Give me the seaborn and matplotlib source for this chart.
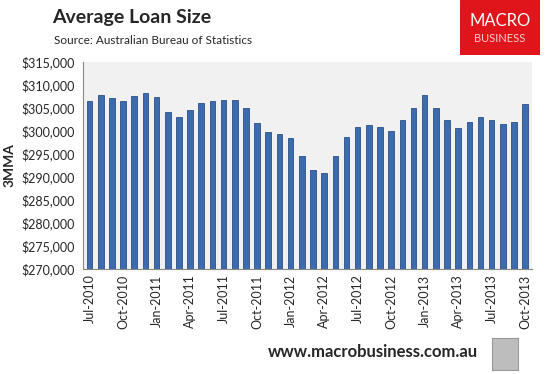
import numpy as np
import pandas as pd
import matplotlib
matplotlib.use("Agg")
import matplotlib.pyplot as plt
import seaborn as sns
from matplotlib.patches import Rectangle

# monthly 3MMA average loan size, Jul-2010 .. Oct-2013
months = pd.date_range("2010-07-01", "2013-10-01", freq="MS").strftime("%b-%Y").tolist()
loan_size = [306600, 307900, 307200, 306600, 307700, 308300, 307500, 304200, 303100, 304600,
             306100, 306600, 306800, 306800, 305100, 301800, 299800, 299400, 298500, 294600,
             291600, 290900, 294600, 298700, 300900, 301400, 300900, 300100, 302400, 305100,
             307900, 305100, 302400, 300700, 302000, 303100, 302400, 301600, 302000, 305900]
y_ticks = list(range(270000, 315001, 5000))

df = pd.DataFrame({"month": months, "size": loan_size})

sns.set_style("white")
plt.rcParams['font.family'] = ['Lato', 'DejaVu Sans']

fig = plt.figure(figsize=(5.45, 3.74), dpi=100)
ax = fig.add_axes([0.152, 0.281, 0.824, 0.553])
ax.set_facecolor("#f1f1f1")

sns.barplot(data=df, x="month", y="size", order=months, color="#3d6cae",
            width=0.5, edgecolor="#2b5088", linewidth=0.6, saturation=1, ax=ax)

ax.set_ylim(270000, 315000)
ax.set_yticks(y_ticks)
ax.set_yticklabels(["${:,.0f}".format(v) for v in y_ticks], fontsize=9)
ax.set_xlim(-0.6, len(months) - 0.4)

idx = list(range(0, len(months), 3))
ax.set_xticks(idx)
ax.set_xticklabels([months[i] for i in idx], rotation=90, fontsize=9)
ax.tick_params(axis="x", which="major", length=0, pad=4)
ax.set_xticks(np.arange(-0.5, len(months), 3), minor=True)
ax.tick_params(axis="x", which="minor", direction="in", length=3, color="#888888")
ax.tick_params(axis="y", length=0, pad=6)

ax.set_xlabel("")
ax.set_ylabel("3MMA", fontsize=10, fontweight="bold", labelpad=4)

for s in ["top", "right"]:
    ax.spines[s].set_visible(False)
ax.spines["left"].set_color("#888888")
ax.spines["bottom"].set_color("#888888")
ax.spines["left"].set_linewidth(0.8)
ax.spines["bottom"].set_linewidth(0.8)

fig.text(52 / 545, 1 - 17 / 374, "Average Loan Size", fontsize=14, fontweight="bold", va="center")
fig.text(54 / 545, 1 - 41 / 374, "Source: Australian Bureau of Statistics", fontsize=8.5, va="center")

# logo box
logo = fig.add_axes([460 / 545, 1 - 55 / 374, 80 / 545, 55 / 374])
logo.set_xlim(0, 1)
logo.set_ylim(0, 1)
logo.add_patch(Rectangle((0, 0), 1, 1, color="#e0141b"))
logo.text(0.5, 0.62, "MACRO", color="white", fontsize=12, ha="center", va="center")
logo.text(0.5, 0.3, "BUSINESS", color="#f6d0d0", fontsize=8, ha="center", va="center")
logo.axis("off")

fig.text(478 / 545, 1 - 352 / 374, "www.macrobusiness.com.au", fontsize=12, fontweight="bold",
         ha="right", va="center")

wolf = fig.add_axes([492 / 545, 1 - 370 / 374, 26 / 545, 32 / 374])
wolf.set_facecolor("#bdbdbd")
wolf.set_xticks([])
wolf.set_yticks([])
for s in wolf.spines.values():
    s.set_color("#999999")

fig.savefig("out.png", dpi=100)
